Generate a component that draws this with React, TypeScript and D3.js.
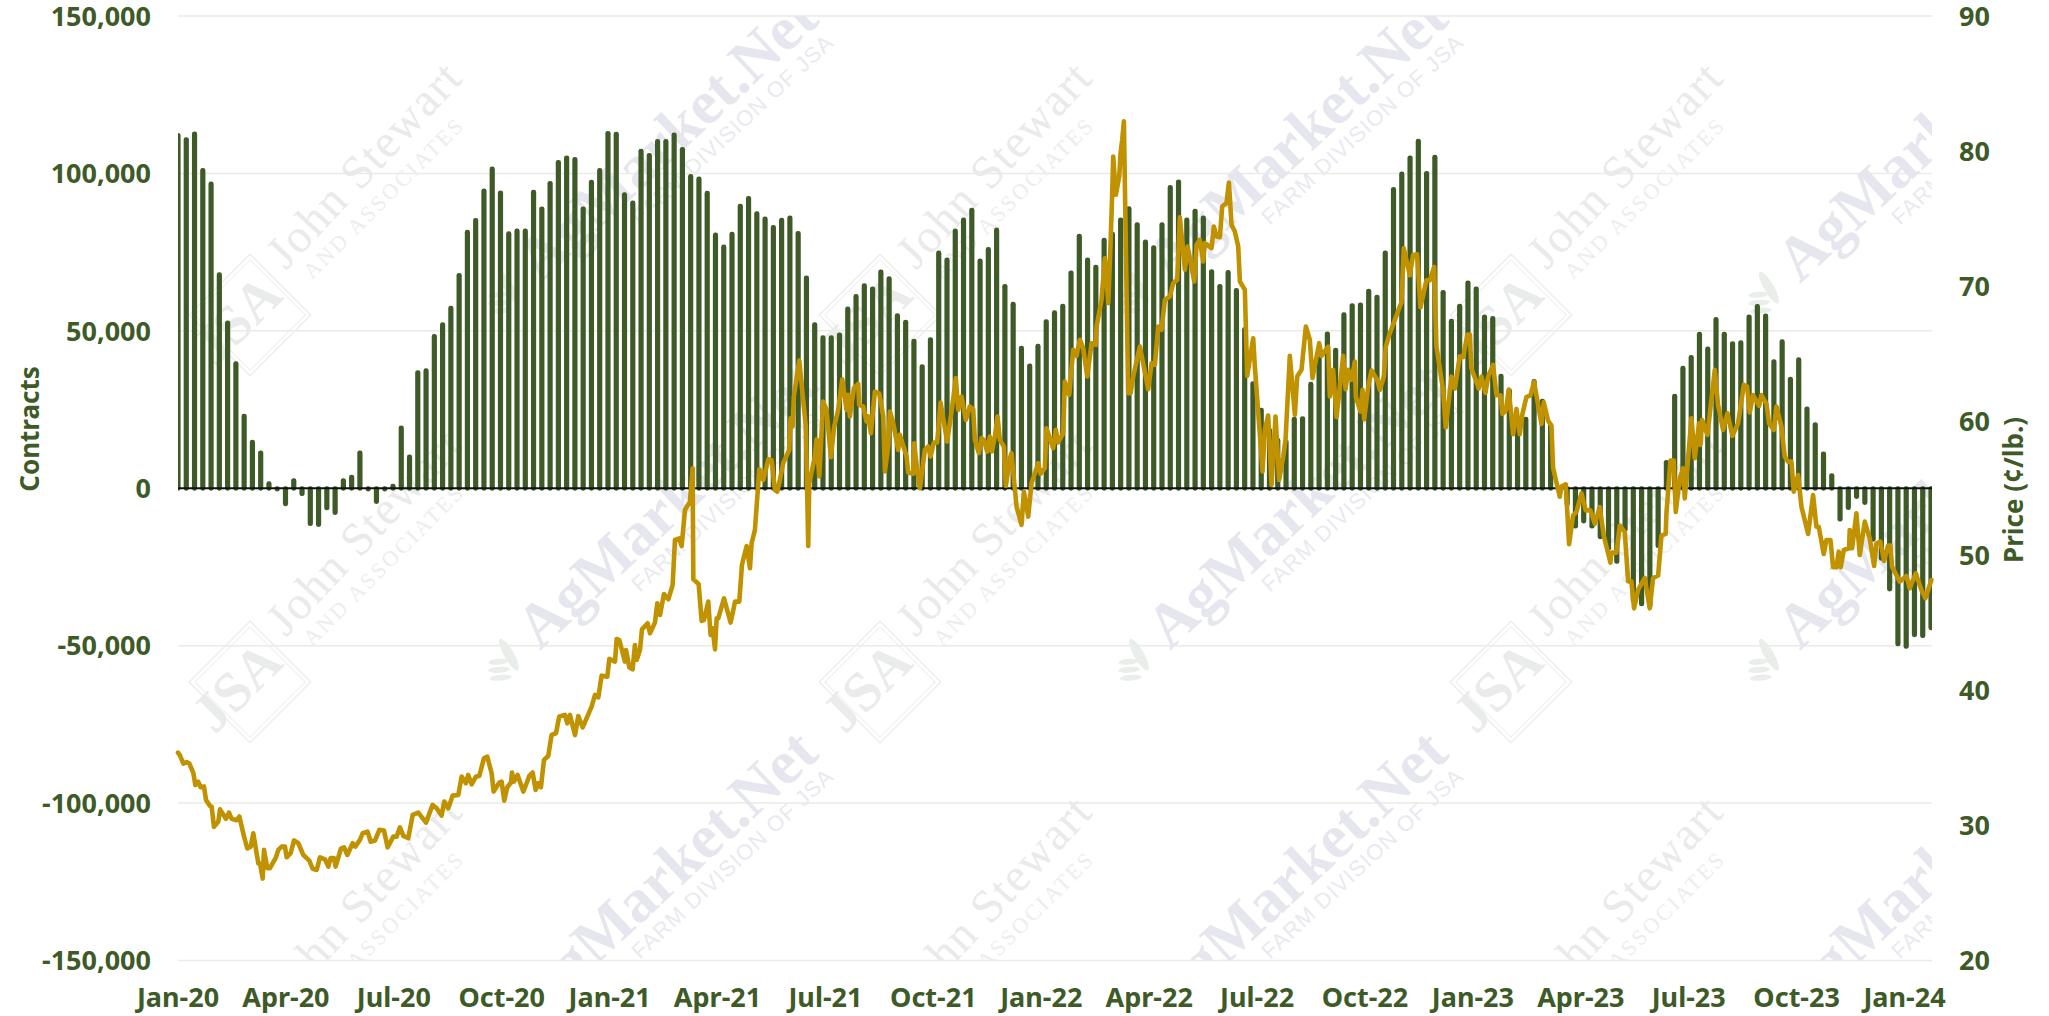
import React from "react";
import * as d3 from "d3";

const netContracts = [
  112.8,111.5,113.3,101.7,97.4,68.6,53.3,40.3,23.7,15.4,12,2.2,-1,-5.7,3.2,-2.5,-12,-12.3,-7,-8.5,3.2,4.3,12,-1,-5,-1,1.4,19.9,10.7,37.5,38.1,
  49,52.7,58,68.4,82.1,85.8,95.2,102.2,94.6,81.6,82.5,82.5,94.8,89.5,97.6,104.3,105.7,105.2,89.5,98,101.7,113.5,113.2,94,91.4,107.8,106.5,110.9,110.9,113,
  108.4,99.8,99,94.5,81.2,77.4,81.5,90.4,92.8,88,86.3,83.6,85.9,86.6,81.7,67.6,52.7,48.6,48.6,49.5,57.7,61.7,65.1,64.1,69.5,67.3,55.6,53.5,47.5,39.4,48,
  75.5,73.3,82.5,86,89.1,73,76.6,82.8,64.9,59.2,45.3,39.6,45.9,53.7,56.5,58.6,69.2,80.8,73.3,71,79.6,81.5,86,89.6,84.5,79,77.2,84.5,96.3,98.1,86,88.8,86.6,
  69.6,64.9,69.3,63.6,51.2,34,25.6,19.2,16,15.5,22.7,22.9,33.8,41.9,49.8,44.6,55.9,58.8,59,63.4,61.5,75.5,95.7,100.6,105.7,111,100.8,105.9,63,53.8,58.6,66,64.1,
  55.2,54.7,36.4,31.8,22.7,22.7,34.7,28.4,20.7,-1,-5.8,-12.8,-11.2,-12.8,-16.2,-19.8,-24,-13.9,-36.4,-37.5,-38.2,-19,9,30,38.9,42.3,49.7,45,54.4,49.7,46.7,47,55.2,58.5,55.5,
  41,47.3,35.4,41.6,26,21,11.7,4.8,-10.6,-6.9,-3.4,-5.3,-17,-23,-32.8,-50.2,-51,-47.3,-47.6,-45.1,
].map((v) => v * 1000);

// [weeks since the first report, cents per lb]
const priceReadings: [number, number][] = [
  [0,35.4],[.24,35.2],[.64,34.6],[1.05,34.7],[1.37,34.6],[1.85,33.9],[2.1,33],[2.42,33.26],[2.74,32.84],[3.14,32.9],[3.39,31.9],[3.87,31.46],[4.07,31.4],[4.35,29.9],[4.88,30.3],[5.08,31.2],[5.8,30.5],[6.17,30.96],[6.49,30.5],[7.09,30.4],[7.42,30.67],[7.98,29.2],[8.38,28.3],[8.79,28.44],[9.11,29.43],[9.71,27.2],[9.92,27.2],[10.24,26.07],[10.4,28.2],[10.8,26.84],[11.12,26.84],[11.85,27.65],[12.13,28.2],[12.54,28.44],[12.94,28.44],[13.14,27.65],[13.62,27.95],[14.03,28.9],[14.55,28.69],[15.16,27.82],[15.88,27.4],[16.28,26.8],[16.77,26.71],[17.17,27.65],[17.78,27.5],[18.18,26.96],[18.46,27.6],[18.86,27.6],[19.06,26.96],[19.71,28.3],[20.07,28.39],[20.48,27.82],[21.12,28.69],[21.44,28.44],[22,28.94],[22.33,29.43],[22.93,29.55],[23.3,28.8],[23.82,28.89],[24.35,29.68],[24.91,29.63],[25.35,28.39],[26.04,29.18],[26.44,29.18],[26.84,29.87],[27.25,29.23],[27.85,29.06],[28.38,30.79],[29.06,30.96],[29.99,30.22],[30.79,31.53],[31.28,31.28],[31.88,30.74],[32.2,31.78],[32.69,31.28],[33.21,32.22],[33.9,32.27],[34.3,33.63],[34.82,33.14],[35.1,33.75],[35.51,33.06],[36.03,33.63],[36.44,33.68],[37,34.99],[37.4,35.11],[37.93,33.88],[38.17,32.52],[38.86,33.19],[39.14,33.26],[39.46,31.85],[39.82,32.84],[40.27,33.19],[40.39,33.93],[40.63,33.26],[41.07,33.75],[41.76,32.52],[42.08,33.01],[42.48,33.68],[42.89,33.93],[43.25,32.64],[43.57,33.14],[43.89,32.84],[44.26,34.87],[44.78,35.16],[45.18,36.72],[45.71,36.84],[46.11,38.08],[46.8,38.2],[47.08,37.58],[47.4,38.2],
  [48.01,36.71],[48.41,38.12],[48.94,37.28],[50.02,38.81],[50.43,39.68],[50.83,39.5],[51.23,41.11],[51.92,41.04],[52.16,42.35],[52.85,42.15],[53.05,43.83],[53.37,43.75],[54.05,42.15],[54.18,43.01],[54.58,41.73],[54.98,41.58],[55.26,43.38],[55.47,42.27],[55.87,43.01],[56.11,44.54],[56.8,44.99],[57.08,44.25],[57.68,45.04],[57.96,46.47],[58.29,45.61],[58.77,47.16],[59.3,46.77],[59.82,47.83],[60.1,51.17],[60.62,51.29],[60.91,50.72],[61.31,53.39],[61.91,54],[62.24,56.48],[62.32,48.25],[62.96,47.91],[63.33,45.16],[63.61,45.24],[64.13,46.6],[64.41,44.12],[64.66,44.62],[64.94,43.06],[65.14,45.36],[65.34,45.36],[66.03,46.84],[66.83,45.04],[67.16,45.98],[67.36,46.6],[67.88,46.6],[68.2,49.31],[68.77,50.72],[69.17,49.07],[69.37,50.92],[69.77,51.91],[70.3,56.41],[70.78,55.61],[71.39,57.15],[71.79,57.1],[72.19,54.87],[72.47,54.75],
  [72.79,55.62],[73.19,56.86],[73.92,57.84],[74.08,60.19],[74.32,59.57],[74.48,61.8],[75.13,64.47],[75.93,59.57],[76.22,50.73],[76.34,55.37],[77.02,57.35],[77.22,58.63],[77.55,55.87],[78.03,61.43],[78.43,60.81],[78.96,57.3],[79.36,59.57],[79.84,60.81],[80.33,63.08],[80.85,60.81],[81.05,61.92],[81.25,60.32],[81.74,62.42],[82.26,62.74],[82.38,61.18],[82.87,61.06],[83.27,59.95],[83.47,60.32],[83.79,59.08],[84.28,62.17],[84.8,62.04],[85.29,60.32],[85.49,56.24],[85.89,58.09],[86.09,60.69],[86.5,59.82],[87.1,57.84],[87.3,58.96],[88.11,57.35],[88.31,56.16],[88.91,56.07],[89.03,58.34],[89.4,56.36],[89.72,55],[90.32,57.84],[90.73,58.09],[91.01,57.35],[91.41,58.39],[91.81,58.39],[92.22,61.35],[93.02,58.46],[93.55,60.69],[94.07,63.16],[94.35,60.81],[94.76,61.8],[95.28,60.07],[95.76,61.06],[96.17,60.86],[96.37,58.59],[96.85,57.6],[97.18,58.71],[97.46,58.59],[97.86,57.72],[98.18,58.83],[98.42,57.72],[98.79,58.83],[99.11,60.32],[99.39,58.59],[99.88,58.09],[100.12,55.18],[100.6,57.23],[100.8,57.6],[101.41,53.64],[102.01,52.28],[102.3,54.75],[102.82,52.9],[103.22,55.37],[104.03,56.86],[104.31,56.07],[104.83,56.49],[105.03,59.45],[105.84,57.97],[106.16,59.33],[106.45,58.39],[107.05,59.08],[107.25,62.91],[107.78,61.92],[108.26,65.26],[108.66,64.81],[109.07,66],
  [109.47,65.38],[109.96,63.28],[110.48,65.75],[111,65.63],[111.09,66.99],[111.69,68.96],[112.09,72.05],[112.5,68.72],[112.78,73.17],[112.98,76.87],[113.1,79.59],[113.42,76.75],[113.83,78.11],[113.99,79.84],[114.19,80.83],[114.39,82.19],[114.91,62.05],[115.2,62.05],[115.52,63.28],[116.33,65.5],[117.33,62.34],[117.74,64.27],[118.14,64.15],[118.54,66.99],[118.94,66.74],[119.35,68.96],[119.95,69.21],[120.36,70.2],[120.84,70.45],[121.16,75.09],[121.77,71.19],[122.09,72.92],[122.9,70.32],[123.18,73.04],[123.58,73.41],[123.98,71.81],[124.18,73.17],[124.99,72.8],[125.27,74.4],[125.6,73.66],[126,73.61],[126.28,75.88],[126.8,76.13],[127.09,77.66],[127.41,74.52],[127.81,74.03],[128.22,72.92],[128.42,70.32],[129.02,69.71],[129.3,63.33],[130.03,66.12],[130.23,64.02],[131.16,56.24],[131.44,59.33],[131.84,60.39],[132.25,55.25],[132.73,60.32],[133.17,55.62],[133.66,57.35],[133.94,58.59],[134.46,64.81],[135.07,60.44],[135.35,63.28],[135.87,63.78],[136.4,66.99],[136.88,66],[137.2,63.16],[138.01,65.75],[138.29,64.81],[139.1,65.5],[139.3,61.8],[139.7,63.78],[140.11,60.27],[140.91,64.81],[141.2,62.34],[141.52,63.78],[141.92,63.03],[142.32,64.39],[142.44,61.8],[143,60.69],[143.25,62.29],[143.45,60.12],[143.94,62.54],[144.34,63.73],[145.03,63.03],[145.35,62.29],[145.83,63.28],[146.07,65.5],[146.55,66.49],[147.16,67.48],[147.76,68.47],
  [147.96,68.78],[148.24,72.79],[148.97,70.78],[149.37,72.29],[149.85,72.34],[150.26,68.4],[150.98,70.41],[151.39,70.41],[151.91,71.41],[152.19,65.52],[153,62.26],[153.32,59.5],[154.01,63.27],[154.41,62.39],[155.01,64.77],[155.42,64.72],[155.94,66.4],[156.22,66.4],[156.42,63.89],[157.31,62.39],[157.63,63.27],[158.12,62.06],[158.44,63.27],[159.04,64.14],[159.45,61.89],[159.93,61.89],[160.17,60.51],[160.58,60.76],[160.94,62.31],[161.46,59],[161.87,60.88],[162.27,59],[162.59,60.51],[163.07,61.76],[163.56,61.89],[164,62.89],[164.89,59.76],[165.17,61.38],[165.69,60.01],[166.1,59.63],[166.3,56.5],[167.1,54.37],[167.31,55.12],[167.83,55.29],[168.23,50.86],[168.72,52.99],[169.12,53.24],[169.73,54.62],[170.25,53.36],[170.81,53.36],[171.34,52.36],[171.94,53.61],[172.43,51.48],[173.23,49.48],[173.35,50.23],[173.96,50.23],[174.36,52.24],[174.97,51.74],[175.37,48.1],[175.77,48.1],[176.09,46.1],[176.58,47.47],[177.38,48.35],[177.99,46.1],[178.39,48.35],[179,48.53],[179.4,51.48],[179.92,51.61],[180,53.11],[180.49,57.05],[180.89,57.05],[181.13,53.24],[181.62,55.75],
  [182.02,56.48],[182.22,54.25],[183.03,60.19],[183.43,57.22],[183.95,59.81],[184.12,58.21],[184.32,60.06],[184.96,58.95],[185.85,63.77],[186.25,61.17],[186.86,59.32],[187.38,60.56],[187.99,58.88],[188.67,59.81],[189.36,62.66],[189.76,62.53],[190.08,60.61],[190.48,61.91],[191.21,61.1],[191.49,61.91],[192.1,61.25],[192.42,59.81],[192.98,59.32],[193.31,61.05],[193.91,59.57],[194.31,57.34],[194.72,56.97],[195.12,56.97],[195.4,54.75],[195.93,55.98],[196.33,53.64],[197.14,51.61],[197.74,54.5],[198.14,52.15],[198.42,52.15],[199.03,50.13],[199.35,51.17],[199.84,51.17],[200.16,49.14],[200.56,49.14],[200.84,50.3],[201.08,49.14],[201.45,50.42],[202.09,50.55],[202.17,51.91],[202.46,50.55],[202.98,53.14],[203.38,50.05],[203.99,52.53],[204.59,51.29],[205.12,49.24],[205.4,50.92],[205.88,51.04],[206.33,49.61],[206.81,50.75],[207.09,50.75],[207.29,49.19],[208.22,48.08],[209.02,48.5],[209.43,47.58],[210.15,48.7],[210.84,47.46],[211.32,46.84],[212.05,48.2],
];

const contractTicks = [150000, 100000, 50000, 0, -50000, -100000, -150000];
const priceTicks = [90, 80, 70, 60, 50, 40, 30, 20];
const quarterLabels = ["Jan-20","Apr-20","Jul-20","Oct-20","Jan-21","Apr-21","Jul-21","Oct-21","Jan-22","Apr-22","Jul-22","Oct-22","Jan-23","Apr-23","Jul-23","Oct-23","Jan-24"];
const weeksPerQuarter = 13.05;

const GREEN = "#3d5a27";
const GOLD = "#c09200";
const GRID = "#e9ebe6";
const FONT = "'Noto Sans', sans-serif";

const W = 2049, H = 1016;
const L = 178, R = 1932, T = 16, B = 960.5;

const xWeek = d3.scaleLinear().domain([0, 212]).range([178, 1931]);
const yContracts = d3.scaleLinear().domain([-150000, 150000]).range([B, T]);
const yPrice = d3.scaleLinear().domain([20, 90]).range([B, T]);
const pricePath = d3.line<[number, number]>().x((d) => xWeek(d[0])).y((d) => yPrice(d[1])).curve(d3.curveLinear);

const johnCols = [250, 880, 1511];
const agCols = [540, 1170, 1800];
const rows = [0, 367, 734];

function JohnMark({ cx, cy }: { cx: number; cy: number }) {
  return (
    <g>
      <g transform={`translate(${cx},${cy}) rotate(45)`} fill="none" stroke="#eceeed">
        <rect x={-43} y={-43} width={86} height={86} strokeWidth={1.5} />
        <rect x={-39} y={-39} width={78} height={78} strokeWidth={1} />
      </g>
      <text transform={`translate(${cx},${cy + 18}) rotate(-45)`} textAnchor="middle" fontFamily="'Liberation Serif', serif" fontWeight={700} fontSize={56} fill="#e9ecea">JSA</text>
      <text transform={`translate(${cx + 36},${cy - 44}) rotate(-47)`} fontFamily="'Liberation Serif', serif" fontSize={47} letterSpacing={1.5} fill="#e9eaea">John Stewart</text>
      <text transform={`translate(${cx + 62},${cy - 35}) rotate(-45)`} fontFamily="'Liberation Serif', serif" fontSize={22} letterSpacing={2.5} fill="#ecedec">AND ASSOCIATES</text>
    </g>
  );
}

function AgMark({ x, y }: { x: number; y: number }) {
  return (
    <g>
      <g transform={`translate(${x - 32},${y + 18}) rotate(-30)`} fill="#eaeeea">
        <ellipse cx={8} cy={-12} rx={5} ry={18} />
        <ellipse cx={-8} cy={8} rx={11} ry={3} transform="rotate(25)" />
        <ellipse cx={-9} cy={0} rx={11} ry={3} transform="rotate(25)" />
        <ellipse cx={-9} cy={-8} rx={10} ry={3} transform="rotate(25)" />
      </g>
      <text transform={`translate(${x},${y}) rotate(-43)`} fontFamily="'Liberation Serif', serif" fontWeight={700} fontSize={62} fill="#e6e6ef">AgMarket.Net</text>
      <text transform={`translate(${x + 100},${y - 58}) rotate(-43)`} fontFamily="'Liberation Sans', sans-serif" fontSize={22} letterSpacing={1} fill="#e9e9f0">FARM DIVISION OF JSA</text>
    </g>
  );
}

export default function App() {
  const y0 = yContracts(0);
  return (
    <svg width={W} height={H} viewBox={`0 0 ${W} ${H}`} style={{ position: "absolute", left: 0, top: 0, display: "block", background: "#fff" }}>
      <defs>
        <clipPath id="plot"><rect x={L} y={T} width={R - L} height={B - T} /></clipPath>
      </defs>
      {contractTicks.filter((t) => t !== 0).map((t) => (
        <line key={t} x1={L} x2={R} y1={yContracts(t)} y2={yContracts(t)} stroke={GRID} strokeWidth={1.5} />
      ))}
      <g clipPath="url(#plot)">
        {rows.map((dy) => johnCols.map((x) => <JohnMark key={`j${x}-${dy}`} cx={x} cy={315 + dy} />))}
        {rows.map((dy) => agCols.map((x) => <AgMark key={`a${x}-${dy}`} x={x} y={284 + dy} />))}
        {netContracts.map((v, i) => {
          const yv = yContracts(v);
          const top = Math.min(yv, y0 - (v < 0 ? 2 : 0));
          const bottom = Math.max(yv, y0 + (v > 0 ? 2.5 : 0));
          return <rect key={i} x={xWeek(i) - 2.6} width={5.2} y={top} height={bottom - top} rx={2.4} fill={GREEN} />;
        })}
      </g>
      <line x1={L} x2={R} y1={y0} y2={y0} stroke="#111" strokeWidth={2} />
      <path d={pricePath(priceReadings) || ""} fill="none" stroke={GOLD} strokeWidth={4.6} strokeLinejoin="round" strokeLinecap="round" />
      <g fontFamily={FONT} fontWeight={700} fontSize={27} fill={GREEN}>
        {contractTicks.map((t) => (
          <text key={t} x={151} y={yContracts(t)} dy="0.36em" textAnchor="end">{t.toLocaleString("en-US")}</text>
        ))}
        {priceTicks.map((t) => (
          <text key={t} x={1959} y={yPrice(t)} dy="0.36em">{t}</text>
        ))}
        {quarterLabels.map((l, i) => (
          <text key={l} x={xWeek(i * weeksPerQuarter)} y={997} dy="0.36em" textAnchor="middle">{l}</text>
        ))}
        <text transform="translate(30,429) rotate(-90)" dy="0.36em" textAnchor="middle" fontSize={26}>Contracts</text>
        <text transform="translate(2014,490) rotate(-90)" dy="0.36em" textAnchor="middle" fontSize={26}>Price (¢/lb.)</text>
      </g>
    </svg>
  );
}
